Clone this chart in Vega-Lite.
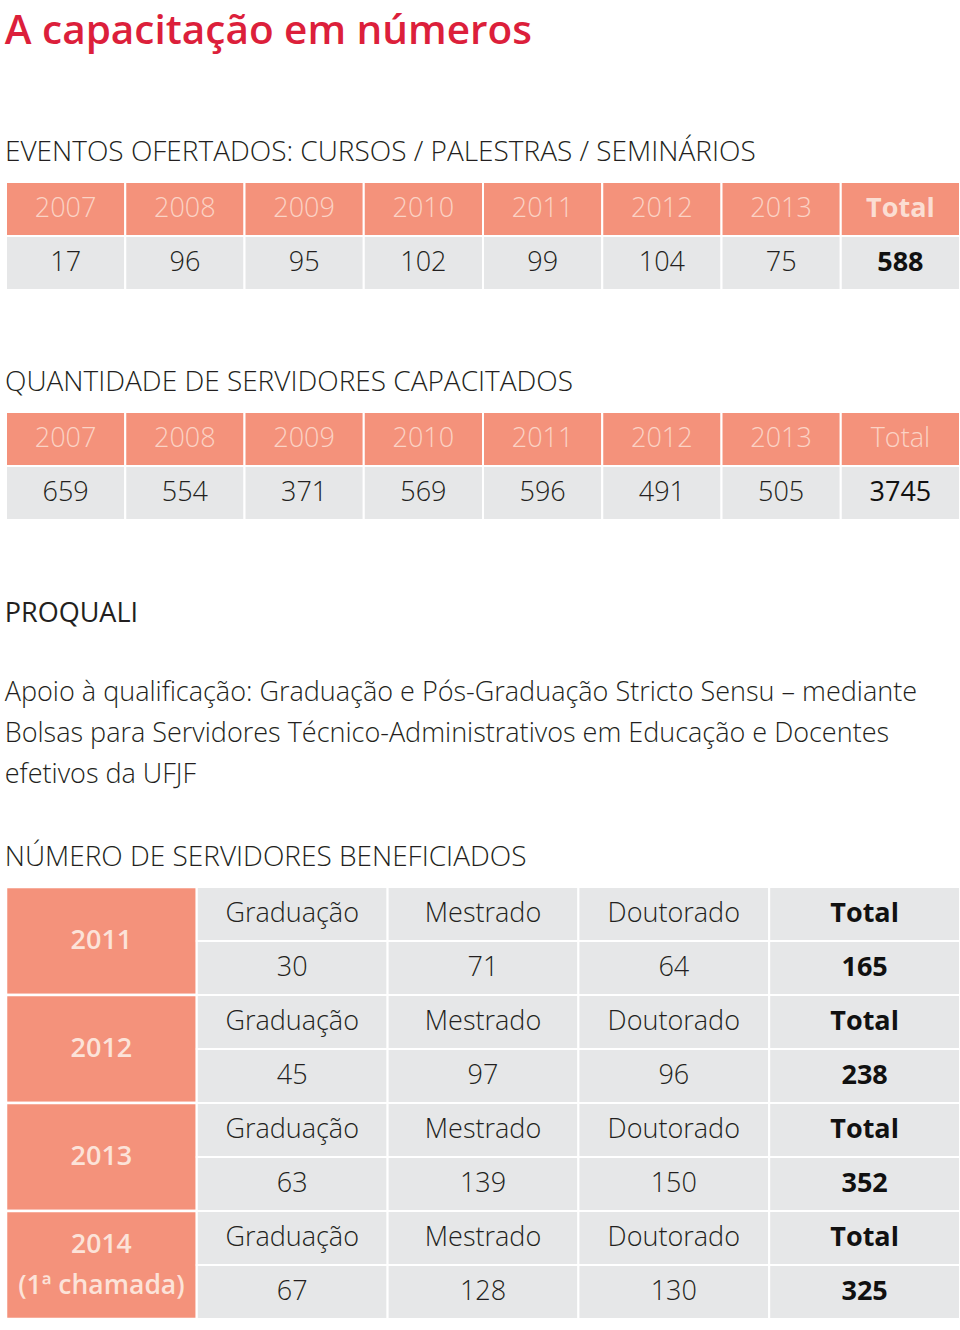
{
  "$schema": "https://vega.github.io/schema/vega-lite/v6.json",
  "background": "white",
  "padding": {"left": 4, "right": 2, "top": 11, "bottom": 0},
  "spacing": 78,
  "title": {
    "text": "A capacitação em números",
    "anchor": "start",
    "font": "Open Sans",
    "fontWeight": 600,
    "fontSize": 40.5,
    "color": "#dc1f3b",
    "offset": 87
  },
  "config": {
    "view": {"stroke": null},
    "title": {"font": "Open Sans", "fontWeight": 300, "fontSize": 28, "color": "#231f20", "anchor": "start", "offset": 14}
  },
  "datasets": {
    "t1": [
      {"col": "2007", "row": "Ano", "text": "2007"},
      {"col": "2008", "row": "Ano", "text": "2008"},
      {"col": "2009", "row": "Ano", "text": "2009"},
      {"col": "2010", "row": "Ano", "text": "2010"},
      {"col": "2011", "row": "Ano", "text": "2011"},
      {"col": "2012", "row": "Ano", "text": "2012"},
      {"col": "2013", "row": "Ano", "text": "2013"},
      {"col": "Total", "row": "Ano", "text": "Total"},
      {"col": "2007", "row": "Valor", "text": "17"},
      {"col": "2008", "row": "Valor", "text": "96"},
      {"col": "2009", "row": "Valor", "text": "95"},
      {"col": "2010", "row": "Valor", "text": "102"},
      {"col": "2011", "row": "Valor", "text": "99"},
      {"col": "2012", "row": "Valor", "text": "104"},
      {"col": "2013", "row": "Valor", "text": "75"},
      {"col": "Total", "row": "Valor", "text": "588"}
    ],
    "t2": [
      {"col": "2007", "row": "Ano", "text": "2007"},
      {"col": "2008", "row": "Ano", "text": "2008"},
      {"col": "2009", "row": "Ano", "text": "2009"},
      {"col": "2010", "row": "Ano", "text": "2010"},
      {"col": "2011", "row": "Ano", "text": "2011"},
      {"col": "2012", "row": "Ano", "text": "2012"},
      {"col": "2013", "row": "Ano", "text": "2013"},
      {"col": "Total", "row": "Ano", "text": "Total"},
      {"col": "2007", "row": "Valor", "text": "659"},
      {"col": "2008", "row": "Valor", "text": "554"},
      {"col": "2009", "row": "Valor", "text": "371"},
      {"col": "2010", "row": "Valor", "text": "569"},
      {"col": "2011", "row": "Valor", "text": "596"},
      {"col": "2012", "row": "Valor", "text": "491"},
      {"col": "2013", "row": "Valor", "text": "505"},
      {"col": "Total", "row": "Valor", "text": "3745"}
    ],
    "t3": [
      {"year": "2011", "col": "Ano", "sub": "a", "text": "2011"},
      {"year": "2011", "col": "Graduação", "sub": "a", "text": "Graduação"},
      {"year": "2011", "col": "Mestrado", "sub": "a", "text": "Mestrado"},
      {"year": "2011", "col": "Doutorado", "sub": "a", "text": "Doutorado"},
      {"year": "2011", "col": "Total", "sub": "a", "text": "Total"},
      {"year": "2011", "col": "Graduação", "sub": "b", "text": "30"},
      {"year": "2011", "col": "Mestrado", "sub": "b", "text": "71"},
      {"year": "2011", "col": "Doutorado", "sub": "b", "text": "64"},
      {"year": "2011", "col": "Total", "sub": "b", "text": "165"},
      {"year": "2012", "col": "Ano", "sub": "a", "text": "2012"},
      {"year": "2012", "col": "Graduação", "sub": "a", "text": "Graduação"},
      {"year": "2012", "col": "Mestrado", "sub": "a", "text": "Mestrado"},
      {"year": "2012", "col": "Doutorado", "sub": "a", "text": "Doutorado"},
      {"year": "2012", "col": "Total", "sub": "a", "text": "Total"},
      {"year": "2012", "col": "Graduação", "sub": "b", "text": "45"},
      {"year": "2012", "col": "Mestrado", "sub": "b", "text": "97"},
      {"year": "2012", "col": "Doutorado", "sub": "b", "text": "96"},
      {"year": "2012", "col": "Total", "sub": "b", "text": "238"},
      {"year": "2013", "col": "Ano", "sub": "a", "text": "2013"},
      {"year": "2013", "col": "Graduação", "sub": "a", "text": "Graduação"},
      {"year": "2013", "col": "Mestrado", "sub": "a", "text": "Mestrado"},
      {"year": "2013", "col": "Doutorado", "sub": "a", "text": "Doutorado"},
      {"year": "2013", "col": "Total", "sub": "a", "text": "Total"},
      {"year": "2013", "col": "Graduação", "sub": "b", "text": "63"},
      {"year": "2013", "col": "Mestrado", "sub": "b", "text": "139"},
      {"year": "2013", "col": "Doutorado", "sub": "b", "text": "150"},
      {"year": "2013", "col": "Total", "sub": "b", "text": "352"},
      {"year": "2014", "col": "Ano", "sub": "a", "text": "2014\n(1ª chamada)"},
      {"year": "2014", "col": "Graduação", "sub": "a", "text": "Graduação"},
      {"year": "2014", "col": "Mestrado", "sub": "a", "text": "Mestrado"},
      {"year": "2014", "col": "Doutorado", "sub": "a", "text": "Doutorado"},
      {"year": "2014", "col": "Total", "sub": "a", "text": "Total"},
      {"year": "2014", "col": "Graduação", "sub": "b", "text": "67"},
      {"year": "2014", "col": "Mestrado", "sub": "b", "text": "128"},
      {"year": "2014", "col": "Doutorado", "sub": "b", "text": "130"},
      {"year": "2014", "col": "Total", "sub": "b", "text": "325"}
    ]
  },
  "vconcat": [
    {
      "width": 954,
      "height": 108,
      "title": {"text": "EVENTOS OFERTADOS: CURSOS / PALESTRAS / SEMINÁRIOS"},
      "data": {"name": "t1"},
      "encoding": {
        "x": {"field": "col", "type": "nominal", "axis": null, "scale": {"paddingInner": 0, "paddingOuter": 0}},
        "y": {"field": "row", "type": "nominal", "axis": null, "scale": {"paddingInner": 0, "paddingOuter": 0}}
      },
      "layer": [
        {
          "mark": {"type": "rect", "stroke": "white", "strokeWidth": 2},
          "encoding": {"color": {"field": "row", "type": "nominal", "scale": {"domain": ["Ano", "Valor"], "range": ["#f4927b", "#e6e7e8"]}, "legend": null}}
        },
        {
          "transform": [{"filter": "datum.row == 'Ano' && datum.col != 'Total'"}],
          "mark": {"type": "text", "font": "Open Sans", "fontWeight": 300, "fontSize": 27, "color": "#fbd3c5"},
          "encoding": {"text": {"field": "text"}}
        },
        {
          "transform": [{"filter": "datum.row == 'Ano' && datum.col == 'Total'"}],
          "mark": {"type": "text", "font": "Open Sans", "fontWeight": 700, "fontSize": 27, "color": "#fbded3"},
          "encoding": {"text": {"field": "text"}}
        },
        {
          "transform": [{"filter": "datum.row == 'Valor' && datum.col != 'Total'"}],
          "mark": {"type": "text", "font": "Open Sans", "fontWeight": 300, "fontSize": 27, "color": "#231f20"},
          "encoding": {"text": {"field": "text"}}
        },
        {
          "transform": [{"filter": "datum.row == 'Valor' && datum.col == 'Total'"}],
          "mark": {"type": "text", "font": "Open Sans", "fontWeight": 700, "fontSize": 27, "color": "#111111"},
          "encoding": {"text": {"field": "text"}}
        }
      ]
    },
    {
      "width": 954,
      "height": 108,
      "title": {"text": "QUANTIDADE DE SERVIDORES CAPACITADOS"},
      "data": {"name": "t2"},
      "encoding": {
        "x": {"field": "col", "type": "nominal", "axis": null, "scale": {"paddingInner": 0, "paddingOuter": 0}},
        "y": {"field": "row", "type": "nominal", "axis": null, "scale": {"paddingInner": 0, "paddingOuter": 0}}
      },
      "layer": [
        {
          "mark": {"type": "rect", "stroke": "white", "strokeWidth": 2},
          "encoding": {"color": {"field": "row", "type": "nominal", "scale": {"domain": ["Ano", "Valor"], "range": ["#f4927b", "#e6e7e8"]}, "legend": null}}
        },
        {
          "transform": [{"filter": "datum.row == 'Ano'"}],
          "mark": {"type": "text", "font": "Open Sans", "fontWeight": 300, "fontSize": 27, "color": "#fbd3c5"},
          "encoding": {"text": {"field": "text"}}
        },
        {
          "transform": [{"filter": "datum.row == 'Valor' && datum.col != 'Total'"}],
          "mark": {"type": "text", "font": "Open Sans", "fontWeight": 300, "fontSize": 27, "color": "#231f20"},
          "encoding": {"text": {"field": "text"}}
        },
        {
          "transform": [{"filter": "datum.row == 'Valor' && datum.col == 'Total'"}],
          "mark": {"type": "text", "font": "Open Sans", "fontWeight": 400, "fontSize": 27, "color": "#111111"},
          "encoding": {"text": {"field": "text"}}
        }
      ]
    },
    {
      "title": {
        "text": "PROQUALI",
        "fontWeight": 400,
        "fontSize": 27,
        "subtitle": ["\u00a0", "Apoio à qualificação: Graduação e Pós-Graduação Stricto Sensu – mediante", "Bolsas para Servidores Técnico-Administrativos em Educação e Docentes", "efetivos da UFJF"],
        "subtitleFont": "Open Sans",
        "subtitleFontWeight": 300,
        "subtitleFontSize": 27,
        "subtitleColor": "#231f20",
        "subtitleLineHeight": 40.7,
        "subtitlePadding": 12,
        "offset": 55
      },
      "vconcat": [
        {
          "width": 954,
          "height": 432,
          "title": {"text": "NÚMERO DE SERVIDORES BENEFICIADOS"},
          "data": {"name": "t3"},
          "encoding": {
            "x": {"field": "col", "type": "nominal", "axis": null, "scale": {"domain": ["Ano", "Graduação", "Mestrado", "Doutorado", "Total"], "paddingInner": 0, "paddingOuter": 0}},
            "y": {"field": "year", "type": "nominal", "axis": null, "scale": {"paddingInner": 0, "paddingOuter": 0}}
          },
          "layer": [
            {
              "transform": [{"filter": "datum.col == 'Ano'"}],
              "mark": {"type": "rect", "stroke": "white", "strokeWidth": 2.5, "color": "#f4927b"},
              "encoding": {}
            },
            {
              "transform": [{"filter": "datum.col != 'Ano'"}],
              "mark": {"type": "rect", "stroke": "white", "strokeWidth": 2, "color": "#e6e7e8"},
              "encoding": {"yOffset": {"field": "sub", "type": "nominal", "scale": {"domain": ["a", "b"], "paddingInner": 0, "paddingOuter": 0}}}
            },
            {
              "transform": [{"filter": "datum.col == 'Ano' && datum.year != '2014'"}],
              "mark": {"type": "text", "font": "Open Sans", "fontWeight": 600, "fontSize": 27, "color": "#fce3d9"},
              "encoding": {"text": {"field": "text"}}
            },
            {
              "transform": [{"filter": "datum.col == 'Ano' && datum.year == '2014'"}],
              "mark": {"type": "text", "font": "Open Sans", "fontWeight": 600, "fontSize": 26.5, "color": "#fce3d9", "lineBreak": "\n", "lineHeight": 41, "dy": -20.5},
              "encoding": {"text": {"field": "text"}}
            },
            {
              "transform": [{"filter": "datum.col != 'Ano' && datum.col != 'Total'"}],
              "mark": {"type": "text", "font": "Open Sans", "fontWeight": 300, "fontSize": 27, "color": "#231f20"},
              "encoding": {"text": {"field": "text"}, "yOffset": {"field": "sub", "type": "nominal", "scale": {"domain": ["a", "b"], "paddingInner": 0, "paddingOuter": 0}}}
            },
            {
              "transform": [{"filter": "datum.col == 'Total'"}],
              "mark": {"type": "text", "font": "Open Sans", "fontWeight": 700, "fontSize": 27, "color": "#111111"},
              "encoding": {"text": {"field": "text"}, "yOffset": {"field": "sub", "type": "nominal", "scale": {"domain": ["a", "b"], "paddingInner": 0, "paddingOuter": 0}}}
            }
          ]
        }
      ]
    }
  ]
}
